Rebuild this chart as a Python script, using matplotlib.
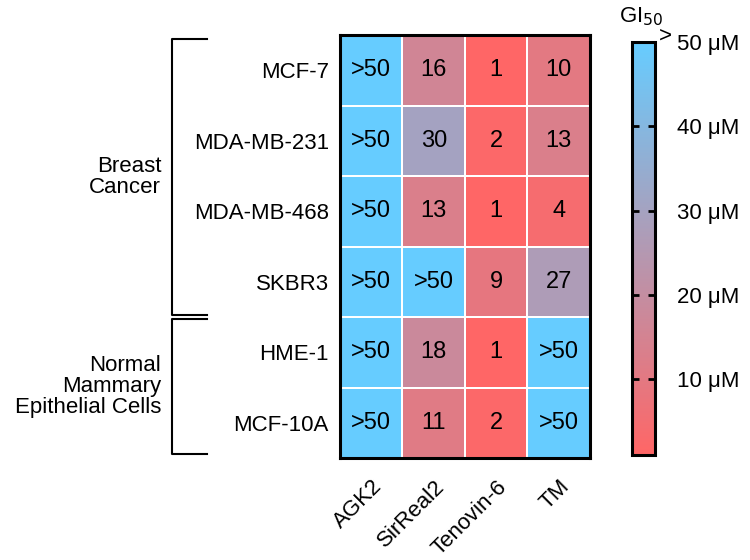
import matplotlib
matplotlib.use("Agg")
import matplotlib.pyplot as plt
import numpy as np
from matplotlib.colors import LinearSegmentedColormap

plt.rcParams['font.family'] = ['Liberation Sans', 'DejaVu Sans']

cell_lines = ["MCF-7", "MDA-MB-231", "MDA-MB-468", "SKBR3", "HME-1", "MCF-10A"]
compounds = ["AGK2", "SirReal2", "Tenovin-6", "TM"]
# GI50 values (uM); 50 stands for ">50"
gi50 = [
    [50, 16, 1, 10],
    [50, 30, 2, 13],
    [50, 13, 1, 4],
    [50, 50, 9, 27],
    [50, 18, 1, 50],
    [50, 11, 2, 50],
]
cell_text = [
    [">50", "16", "1", "10"],
    [">50", "30", "2", "13"],
    [">50", "13", "1", "4"],
    [">50", ">50", "9", "27"],
    [">50", "18", "1", ">50"],
    [">50", "11", "2", ">50"],
]
cbar_ticks = [10, 20, 30, 40, 50]
cbar_labels = ["10 μM", "20 μM", "30 μM", "40 μM", "50 μM"]
groups = ["Breast\nCancer", "Normal\nMammary\nEpithelial Cells"]
group_rows = [(0, 3), (4, 5)]

FS = 16
cmap = LinearSegmentedColormap.from_list("gi", ["#FF6666", "#66CCFF"])
vmin, vmax = 1, 50

fig = plt.figure(figsize=(7.5, 5.6), dpi=100)
ax = fig.add_axes([0.4533, 0.182, 0.3333, 0.7554])
data = np.array(gi50, dtype=float)
mesh = ax.pcolormesh(np.arange(len(compounds) + 1), np.arange(len(cell_lines) + 1), data,
                     cmap=cmap, vmin=vmin, vmax=vmax, edgecolor="white", linewidth=1.2)
ax.set_xlim(0, len(compounds))
ax.set_ylim(len(cell_lines), 0)
for i in range(len(cell_lines)):
    for j in range(len(compounds)):
        ax.text(j + 0.5, i + 0.5, cell_text[i][j], ha="center", va="center",
                fontsize=17, color="black")
ax.set_yticks(np.arange(len(cell_lines)) + 0.5)
ax.set_yticklabels(cell_lines, fontsize=FS)
ax.set_xticks(np.arange(len(compounds)) + 0.5)
ax.set_xticklabels(compounds, fontsize=FS, rotation=45, ha="right", rotation_mode="anchor")
ax.tick_params(length=0, pad=8)
ax.tick_params(axis="x", pad=13)
for s in ax.spines.values():
    s.set_linewidth(2.2)

# brackets
bx = 0.229
arm = 0.047
def row_to_fig(r):
    return 0.9375 - r / len(cell_lines) * 0.7554
for (r0, r1), g, gap in zip(group_rows, groups, [(0.008, 0.004), (0.004, 0.008)]):
    ytop = row_to_fig(r0) - gap[0]
    ybot = row_to_fig(r1 + 1) + gap[1]
    fig.add_artist(plt.Line2D([bx + arm, bx, bx, bx + arm], [ytop, ytop, ybot, ybot],
                              color="black", lw=1.5, transform=fig.transFigure))
    ymid = (ytop + ybot) / 2
    fig.text(bx - 0.014, ymid, g, ha="right", va="center", fontsize=FS, linespacing=1.0)

# colorbar
cax = fig.add_axes([0.8427, 0.1875, 0.0307, 0.7375])
cb = fig.colorbar(mesh, cax=cax)
cb.set_ticks(cbar_ticks)
cb.set_ticklabels(cbar_labels, fontsize=FS)
cb.outline.set_linewidth(2.2)
cax.tick_params(direction="in", length=5, width=2, left=True, right=True, pad=16)
cax.text(1.15, 1.015, ">", transform=cax.transAxes, ha="left", va="center", fontsize=FS)
cax.text(0.4, 1.035, "GI$_{50}$", transform=cax.transAxes, ha="center", va="bottom", fontsize=FS)

fig.savefig("out.png", dpi=100)
